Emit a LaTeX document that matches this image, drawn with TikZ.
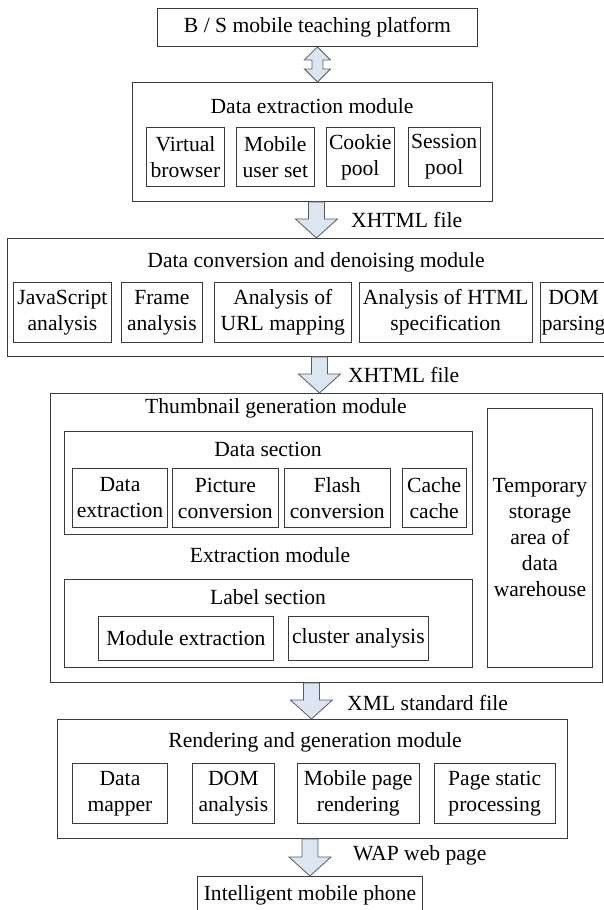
\documentclass[tikz,border=0pt]{standalone}
\usepackage{fontspec}
\setmainfont{Liberation Serif}
\usepackage{tikz}
\usetikzlibrary{calc}
\usetikzlibrary{positioning}
\definecolor{myline}{HTML}{3A3A3A}
\definecolor{myarrow}{HTML}{DCE6F2}
\definecolor{myarrowline}{HTML}{5A5A5A}
\newcommand{\diagfont}{\fontsize{21.6}{26}\selectfont}
\tikzset{node distance=11pt, every text node part/.style={align=center, font={\diagfont}}}
\tikzstyle{block} = [draw=myline, fill=white, line width=0.9pt, inner sep=0pt, anchor=north west]
\tikzstyle{sub} = [draw=myline, fill=white, line width=0.9pt, inner sep=0pt]
\tikzstyle{heading} = [inner sep=0pt]
\tikzstyle{flowtext} = [inner sep=0pt, anchor=west]
\tikzstyle{blockarrow} = [draw=myarrowline, fill=myarrow, line width=0.8pt, line join=miter]
\newcommand{\blockdown}[3][0pt]{%
  \draw[blockarrow] let \p1=(#2.south), \p2=(#3.north) in
    ({\x2+#1-8pt},\y1) -- ({\x2+#1-8pt},\y2+19pt) -- ({\x2+#1-21pt},\y2+19pt) -- ({\x2+#1},\y2)
    -- ({\x2+#1+21pt},\y2+19pt) -- ({\x2+#1+8pt},\y2+19pt) -- ({\x2+#1+8pt},\y1) -- cycle;}
\newcommand{\blockboth}[2]{%
  \draw[blockarrow] let \p1=(#1.south), \p2=(#2.north) in
    (\x1,\y1) -- (\x1+13pt,\y1-13pt) -- (\x1+5.5pt,\y1-13pt) -- (\x1+5.5pt,\y2+13pt)
    -- (\x1+13pt,\y2+13pt) -- (\x1,\y2) -- (\x1-13pt,\y2+13pt) -- (\x1-5.5pt,\y2+13pt)
    -- (\x1-5.5pt,\y1-13pt) -- (\x1-13pt,\y1-13pt) -- cycle;}

\begin{document}
\begin{tikzpicture}[x=1pt, y=-1pt]
  \useasboundingbox (0,0) rectangle (604,910);
  \node[block, minimum width=320pt, minimum height=38pt] (platform) at (157,8) {B / S mobile teaching platform};

  \node[block, minimum width=360pt, minimum height=119pt] (extract) at (132,82) {};
  \node[heading] (extract-title) at (312,106) {Data extraction module};
  \node[block, minimum width=78pt, minimum height=59pt] (extract-1) at (146,127) {Virtual\\browser};
  \node[sub, right=of extract-1, minimum width=78pt, minimum height=59pt] (extract-2) {Mobile\\user set};
  \node[sub, right=of extract-2, minimum width=68pt, minimum height=59pt] (extract-3) {Cookie\\pool};
  \node[sub, right=13pt of extract-3, minimum width=72pt, minimum height=59pt] (extract-4) {Session\\pool};

  \node[block, minimum width=618pt, minimum height=118pt] (convert) at (7,238) {};
  \node[heading] (convert-title) at (316,262) {Data conversion and denoising module};
  \node[block, minimum width=98pt, minimum height=60pt] (convert-1) at (13,282) {JavaScript\\analysis};
  \node[sub, right=9pt of convert-1, minimum width=81pt, minimum height=60pt] (convert-2) {Frame\\analysis};
  \node[sub, right=of convert-2, minimum width=137pt, minimum height=60pt] (convert-3) {Analysis of\\URL mapping};
  \node[sub, right=7pt of convert-3, minimum width=173pt, minimum height=60pt] (convert-4) {Analysis of HTML\\specification};
  \node[sub, right=7pt of convert-4, minimum width=67pt, minimum height=60pt] (convert-5) {DOM\\parsing};

  \node[block, minimum width=552pt, minimum height=289pt] (thumb) at (50,393) {};
  \node[heading] (thumb-title) at (276,408) {Thumbnail generation module};
  \node[block, minimum width=408pt, minimum height=103pt] (data-sec) at (64,431) {};
  \node[heading] (data-title) at (268,449) {Data section};
  \node[block, minimum width=95pt, minimum height=59pt] (data-1) at (72,468) {Data\\extraction};
  \node[sub, right=4pt of data-1, minimum width=106pt, minimum height=59pt] (data-2) {Picture\\conversion};
  \node[sub, right=5pt of data-2, minimum width=106pt, minimum height=59pt] (data-3) {Flash\\conversion};
  \node[sub, right=of data-3, minimum width=64pt, minimum height=59pt] (data-4) {Cache\\cache};
  \node[heading] (extract-mod) at (270,555) {Extraction module};
  \node[block, minimum width=408pt, minimum height=88pt] (label-sec) at (64,579) {};
  \node[heading] (label-title) at (268,597) {Label section};
  \node[block, minimum width=175pt, minimum height=44pt] (label-1) at (98,616) {Module extraction};
  \node[sub, right=14pt of label-1, minimum width=140pt, minimum height=44pt] (label-2) {cluster analysis};
  \node[block, minimum width=105pt, minimum height=259pt] (temp) at (487,408) {Temporary\\storage\\area of\\data\\warehouse};

  \node[block, minimum width=510pt, minimum height=119pt] (render) at (57,719) {};
  \node[heading] (render-title) at (315,742) {Rendering and generation module};
  \node[block, minimum width=95pt, minimum height=60pt] (render-1) at (72,763) {Data\\mapper};
  \node[sub, right=24pt of render-1, minimum width=82pt, minimum height=60pt] (render-2) {DOM\\analysis};
  \node[sub, right=22pt of render-2, minimum width=122pt, minimum height=60pt] (render-3) {Mobile page\\rendering};
  \node[sub, right=14pt of render-3, minimum width=121pt, minimum height=60pt] (render-4) {Page static\\processing};

  \node[block, minimum width=225pt, minimum height=38pt] (phone) at (197,876) {Intelligent mobile phone};

  \blockboth{platform}{extract}
  \blockdown{extract}{convert}
  \blockdown[-7pt]{convert}{thumb}
  \blockdown[-1pt]{thumb}{render}
  \blockdown{render}{phone}
  \node[flowtext] (file-1) at (351,220) {XHTML file};
  \node[flowtext] (file-2) at (348,375) {XHTML file};
  \node[flowtext] (file-3) at (347,703) {XML standard file};
  \node[flowtext] (file-4) at (353,855) {WAP web page};
\end{tikzpicture}
\end{document}
